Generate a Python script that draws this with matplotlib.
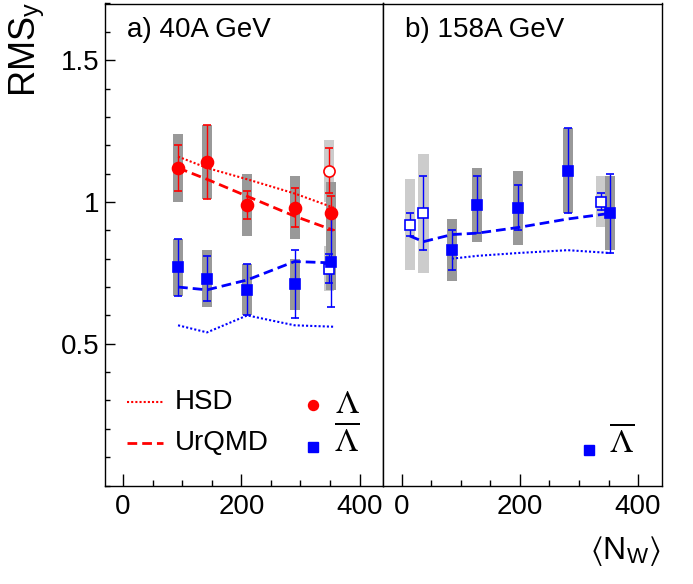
import matplotlib
matplotlib.use('Agg')
import matplotlib.pyplot as plt
from matplotlib.ticker import MultipleLocator

plt.rcParams['font.family'] = ['Liberation Sans', 'DejaVu Sans']
plt.rcParams['mathtext.fontset'] = 'stix'

RED = '#ff0000'
BLUE = '#0000ff'
DARK = '#999999'
LIGHT = '#cccccc'

# ---- 40A GeV ----
nw_40 = [93, 142, 210, 290, 351]
lam_40 = [1.12, 1.14, 0.99, 0.98, 0.96]
lam_40_stat = [0.08, 0.13, 0.05, 0.07, 0.06]
lam_40_sys = [0.12, 0.13, 0.11, 0.11, 0.11]
alam_40 = [0.77, 0.73, 0.69, 0.71, 0.79]
alam_40_stat = [0.10, 0.08, 0.09, 0.12, 0.16]
alam_40_sys = [0.10, 0.10, 0.09, 0.09, 0.10]

# open points (other centrality selection)
nw_40_open = [348]
lam_40_open = [1.11]
lam_40_open_stat = [0.08]
lam_40_open_sys = [0.11]
alam_40_open = [0.765]
alam_40_open_stat = [0.05]
alam_40_open_sys = [0.08]

# models
model_nw_40 = [93, 142, 210, 290, 356]
hsd_lam_40 = [1.16, 1.12, 1.08, 1.03, 0.98]
urqmd_lam_40 = [1.12, 1.08, 1.02, 0.95, 0.90]
hsd_alam_40 = [0.565, 0.54, 0.60, 0.565, 0.56]
urqmd_alam_40 = [0.70, 0.69, 0.725, 0.79, 0.785]

# ---- 158A GeV ----
nw_158 = [85, 128, 197, 281, 353]
alam_158 = [0.83, 0.99, 0.98, 1.11, 0.96]
alam_158_stat = [0.07, 0.10, 0.08, 0.15, 0.14]
alam_158_sys = [0.11, 0.13, 0.13, 0.15, 0.13]
nw_158_open = [14, 37, 337]
alam_158_open = [0.92, 0.96, 1.00]
alam_158_open_stat = [0.04, 0.13, 0.03]
alam_158_open_sys = [0.16, 0.21, 0.09]

urqmd_nw_158 = [14, 37, 85, 128, 197, 281, 353]
urqmd_alam_158 = [0.88, 0.86, 0.885, 0.89, 0.91, 0.94, 0.96]
hsd_nw_158 = [85, 128, 197, 281, 353]
hsd_alam_158 = [0.80, 0.81, 0.82, 0.83, 0.82]

XLIM = (-31, 440)
YLIM = (0, 1.7)
BOX_W = 17

DOT = (0, (1, 1))
DASH = (0, (3.5, 1.8))
FS = 20


def sys_boxes(ax, x, y, sys, color):
    ax.bar(x, [2 * s for s in sys], bottom=[v - s for v, s in zip(y, sys)],
           width=BOX_W, color=color, linewidth=0, zorder=1)


def points(ax, x, y, stat, color, marker, ms, filled=True):
    ax.errorbar(x, y, yerr=stat, fmt=marker, color=color, ms=ms,
                mfc=color if filled else 'white', mec=color, mew=1.2,
                elinewidth=1.0, capsize=3, capthick=1.0, zorder=4)


def style(ax, ylabels):
    ax.set_xlim(*XLIM)
    ax.set_ylim(*YLIM)
    ax.set_xticks([0, 200, 400])
    ax.set_xticklabels(['0', '200', '400'])
    ax.xaxis.set_minor_locator(MultipleLocator(50))
    ax.tick_params(axis='x', which='major', direction='in', length=8.6,
                   width=1.0, labelsize=FS, pad=6, top=False)
    ax.tick_params(axis='x', which='minor', direction='in', length=4.3,
                   width=1.0, top=False)
    if ylabels:
        ax.set_yticks([0.5, 1.0, 1.5])
        ax.set_yticklabels(['0.5', '1', '1.5'])
        ax.yaxis.set_minor_locator(MultipleLocator(0.1))
        ax.tick_params(axis='y', which='major', direction='in', length=7.2,
                       width=1.0, labelsize=FS, pad=3.5, right=False)
        ax.tick_params(axis='y', which='minor', direction='in', length=3.6,
                       width=1.0, right=False)
    else:
        ax.set_yticks([])
        ax.tick_params(axis='y', which='both', left=False, right=False,
                       labelleft=False)
    for sp in ax.spines.values():
        sp.set_linewidth(1.0)


W, H = 693, 584
fig = plt.figure(figsize=(W / 100, H / 100), dpi=100)
ax1 = fig.add_axes([104.7 / W, 1 - 485.5 / H, 278.6 / W, 482 / H])
ax2 = fig.add_axes([383.3 / W, 1 - 485.5 / H, 278.4 / W, 482 / H])

# ---- panel a ----
sys_boxes(ax1, nw_40_open, lam_40_open, lam_40_open_sys, LIGHT)
sys_boxes(ax1, nw_40_open, alam_40_open, alam_40_open_sys, LIGHT)
sys_boxes(ax1, nw_40, lam_40, lam_40_sys, DARK)
sys_boxes(ax1, nw_40, alam_40, alam_40_sys, DARK)

ax1.plot(model_nw_40, hsd_lam_40, color=RED, lw=1.5, ls=DOT, zorder=2)
ax1.plot(model_nw_40, urqmd_lam_40, color=RED, lw=2.0, ls=DASH, zorder=2)
ax1.plot(model_nw_40, hsd_alam_40, color=BLUE, lw=1.5, ls=DOT, zorder=2)
ax1.plot(model_nw_40, urqmd_alam_40, color=BLUE, lw=2.0, ls=DASH, zorder=2)

points(ax1, nw_40_open, lam_40_open, lam_40_open_stat, RED, 'o', 8.0, filled=False)
points(ax1, nw_40_open, alam_40_open, alam_40_open_stat, BLUE, 's', 7.5, filled=False)
points(ax1, nw_40, lam_40, lam_40_stat, RED, 'o', 8.6)
points(ax1, nw_40, alam_40, alam_40_stat, BLUE, 's', 7.5)

style(ax1, True)
ax1.text(0.08, 0.945, 'a) 40A GeV', transform=ax1.transAxes, fontsize=FS,
         ha='left', va='center')

# legend block
tr = ax1.transAxes
ax1.plot([0.081, 0.21], [0.173, 0.173], transform=tr, color=RED, lw=1.5, ls=DOT)
ax1.plot([0.081, 0.21], [0.088, 0.088], transform=tr, color=RED, lw=2.0, ls=DASH)
ax1.text(0.253, 0.173, 'HSD', transform=tr, fontsize=FS, va='center')
ax1.text(0.253, 0.088, 'UrQMD', transform=tr, fontsize=FS, va='center')
ax1.plot([0.748], [0.167], 'o', transform=tr, color=RED, ms=7.2)
ax1.plot([0.748], [0.080], 's', transform=tr, color=BLUE, ms=6.7)
ax1.text(0.87, 0.169, r'$\Lambda$', transform=tr, fontsize=24,
         ha='center', va='center')
ax1.text(0.87, 0.092, r'$\overline{\Lambda}$', transform=tr, fontsize=24,
         ha='center', va='center')

# ---- panel b ----
sys_boxes(ax2, nw_158_open, alam_158_open, alam_158_open_sys, LIGHT)
sys_boxes(ax2, nw_158, alam_158, alam_158_sys, DARK)

ax2.plot(urqmd_nw_158, urqmd_alam_158, color=BLUE, lw=2.0, ls=DASH, zorder=2)
ax2.plot(hsd_nw_158, hsd_alam_158, color=BLUE, lw=1.5, ls=DOT, zorder=2)

points(ax2, nw_158_open, alam_158_open, alam_158_open_stat, BLUE, 's', 7.5, filled=False)
points(ax2, nw_158, alam_158, alam_158_stat, BLUE, 's', 7.5)

style(ax2, False)
ax2.text(0.078, 0.945, 'b) 158A GeV', transform=ax2.transAxes, fontsize=FS,
         ha='left', va='center')
ax2.plot([0.739], [0.074], 's', transform=ax2.transAxes, color=BLUE, ms=6.7)
ax2.text(0.857, 0.089, r'$\overline{\Lambda}$', transform=ax2.transAxes,
         fontsize=24, ha='center', va='center')

# axis titles
fig.text(27 / W, 1 - 2 / H, r'RMS$_{\mathregular{y}}$', rotation=90,
         fontsize=26, ha='center', va='top')
fig.text(661 / W, 1 - 551 / H,
         r'$\langle\mathregular{N}_{\mathregular{W}}\rangle$',
         fontsize=23, ha='right', va='center')

fig.savefig('out.png', dpi=100)
